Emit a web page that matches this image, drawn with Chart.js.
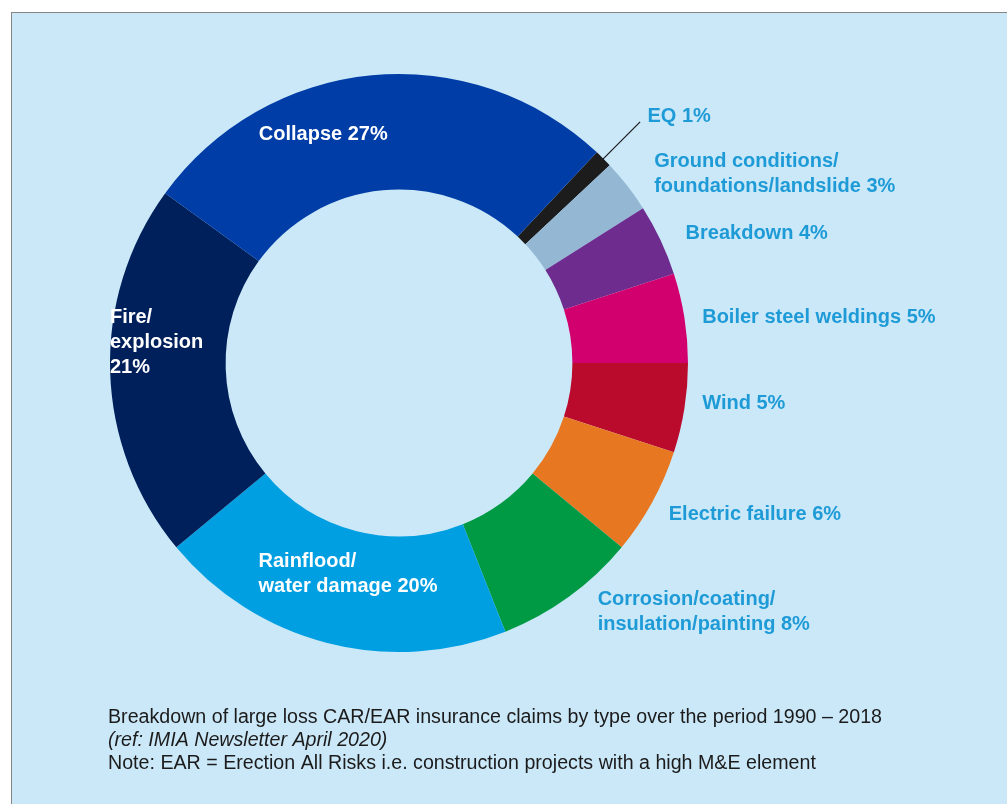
<!DOCTYPE html>
<html>
<head>
<meta charset="utf-8">
<script src="https://cdn.jsdelivr.net/npm/chart.js@4/dist/chart.umd.min.js"></script>
<style>
  html, body { margin: 0; padding: 0; background: #fff; }
  #frame {
    position: absolute; left: 11px; top: 12px; right: 0; bottom: 0;
    background: #cbe8f8;
    border-left: 1.5px solid #858585;
    border-top: 1.5px solid #858585;
  }
  #wrap { position: absolute; left: 0; top: 0; width: 1007px; height: 804px; }
</style>
</head>
<body>
<div id="frame"></div>
<div id="wrap"><canvas id="myChart" width="1007" height="804"></canvas></div>
<script>
// slices, clockwise from the EQ sliver
const categories = ['EQ', 'Ground conditions/\nfoundations/landslide', 'Breakdown', 'Boiler steel weldings',
    'Wind', 'Electric failure', 'Corrosion/coating/\ninsulation/painting', 'Rainflood/\nwater damage',
    'Fire/\nexplosion', 'Collapse'];
const shares = [1, 3, 4, 5, 5, 6, 8, 20, 21, 27];
const pctSep = [' ', ' ', ' ', ' ', ' ', ' ', ' ', ' ', '\n', ' '];
const colors = ['#1c1c1c', '#94b8d4', '#6e2c8f', '#d2006f', '#bb0b2d', '#e87722',
    '#009a44', '#009fe2', '#00205b', '#003da6'];

const captionLines = [
    'Breakdown of large loss CAR/EAR insurance claims by type over the period 1990 \u2013 2018',
    '(ref: IMIA Newsletter April 2020)',
    'Note: EAR = Erection All Risks i.e. construction projects with a high M&E element'
];

function labelText(i) {
    return categories[i] + pctSep[i] + shares[i] + '%';
}

// where each label sits relative to its slice
const placement = [
    { inside: false, dx: 30, dy: -28, leader: 52 },
    { inside: false, dx: 11, dy: 0 },
    { inside: false, dx: 7, dy: 2 },
    { inside: false, dx: -2, dy: 3 },
    { inside: false, dx: -2, dy: -8 },
    { inside: false, dx: -1, dy: 3 },
    { inside: false, dx: 17, dy: -1 },
    { inside: true, dx: -83, dy: -13 },
    { inside: true, dx: -58, dy: -28 },
    { inside: true, dx: -54, dy: 2, align: 'center' }
];

const sliceLabels = {
    id: 'sliceLabels',
    afterDatasetsDraw(chart) {
        const ctx = chart.ctx;
        const meta = chart.getDatasetMeta(0);
        ctx.save();
        ctx.font = 'bold 20px "Liberation Sans", Arial, sans-serif';
        ctx.textBaseline = 'middle';
        meta.data.forEach((arc, i) => {
            const p = arc.getProps(['x', 'y', 'startAngle', 'endAngle', 'innerRadius', 'outerRadius'], true);
            const mid = (p.startAngle + p.endAngle) / 2;
            const pl = placement[i];
            if (pl.leader) {
                ctx.strokeStyle = '#1a1a1a';
                ctx.lineWidth = 1.2;
                ctx.beginPath();
                ctx.moveTo(p.x + Math.cos(mid) * (p.outerRadius - 2), p.y + Math.sin(mid) * (p.outerRadius - 2));
                ctx.lineTo(p.x + Math.cos(mid) * (p.outerRadius + pl.leader), p.y + Math.sin(mid) * (p.outerRadius + pl.leader));
                ctx.stroke();
            }
            const r = pl.inside ? (p.innerRadius + p.outerRadius) / 2 : p.outerRadius + 20;
            const x = p.x + Math.cos(mid) * r + pl.dx;
            const y = p.y + Math.sin(mid) * r + pl.dy;
            const lines = labelText(i).split('\n');
            ctx.fillStyle = pl.inside ? '#ffffff' : '#1e9bd7';
            ctx.textAlign = pl.align || 'left';
            const lh = 25;
            const y0 = y - (lines.length - 1) * lh / 2;
            lines.forEach((t, k) => ctx.fillText(t, x, y0 + k * lh));
        });
        ctx.restore();
    }
};

const caption = {
    id: 'caption',
    afterDraw(chart) {
        const ctx = chart.ctx;
        const font = '20px "Liberation Sans Narrow", "Liberation Sans", Arial, sans-serif';
        ctx.save();
        ctx.fillStyle = '#1b1b1b';
        ctx.textBaseline = 'alphabetic';
        ctx.textAlign = 'left';
        ctx.font = font;
        // squeeze to the narrow look of the original caption
        const sx = 774 / ctx.measureText(captionLines[0]).width;
        ctx.translate(108, 0);
        ctx.scale(sx, 1);
        captionLines.forEach((t, k) => {
            ctx.font = (k == 1 ? 'italic ' : '') + font;
            ctx.fillText(t, 0, 723 + k * 23);
        });
        ctx.restore();
    }
};

window.addEventListener('load', function () {
    const ctx = document.getElementById('myChart').getContext('2d');
    new Chart(ctx, {
        type: 'doughnut',
        data: {
            labels: categories.map(c => c.replace('\n', ' ')),
            datasets: [{
                data: shares,
                backgroundColor: colors,
                borderWidth: 0,
                hoverOffset: 0
            }]
        },
        options: {
            responsive: false,
            animation: false,
            rotation: 43.2,
            cutout: '60%',
            layout: { padding: { left: 110, top: 74, right: 319, bottom: 152 } },
            plugins: {
                legend: { display: false },
                tooltip: { enabled: false }
            }
        },
        plugins: [sliceLabels, caption]
    });
});
</script>
</body>
</html>
